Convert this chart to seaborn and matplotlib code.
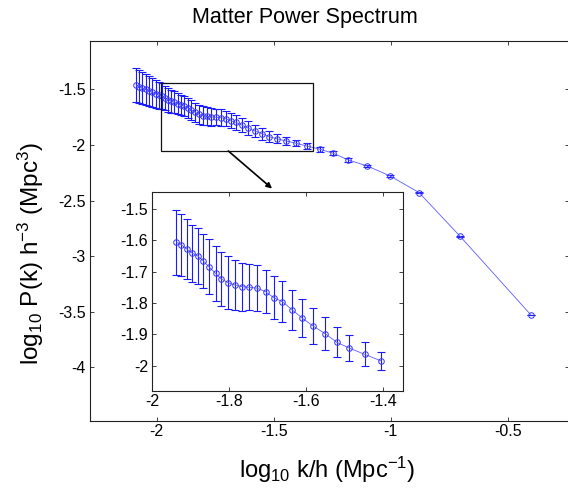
import numpy as np
import pandas as pd
import matplotlib
matplotlib.use("Agg")
import matplotlib.pyplot as plt
import seaborn as sns
from matplotlib.ticker import FuncFormatter
from matplotlib.patches import Rectangle

# ---- data ----
log_k = [-2.088, -2.075, -2.061, -2.047, -2.033, -2.019, -2.005, -1.992, -1.978, -1.964, -1.950,
         -1.937, -1.924, -1.910, -1.896, -1.882, -1.867, -1.853, -1.835, -1.821, -1.803,
         -1.784, -1.766, -1.747, -1.727, -1.705, -1.684, -1.661, -1.636, -1.609, -1.582,
         -1.550, -1.519, -1.487, -1.447, -1.404,
         -1.359, -1.302, -1.245, -1.181, -1.100, -1.003, -0.879, -0.704, -0.402]
log_P = [-1.461, -1.475, -1.487, -1.500, -1.512, -1.525, -1.538, -1.551, -1.563, -1.577, -1.592,
         -1.606, -1.615, -1.628, -1.641, -1.650, -1.666, -1.684, -1.706, -1.723, -1.735,
         -1.743, -1.748, -1.750, -1.753, -1.764, -1.783, -1.796, -1.822, -1.849, -1.873,
         -1.898, -1.926, -1.944, -1.964, -1.985,
         -2.009, -2.039, -2.075, -2.135, -2.189, -2.278, -2.428, -2.820, -3.526]
err_P = [0.156, 0.151, 0.146, 0.141, 0.136, 0.131, 0.126, 0.121, 0.116, 0.112, 0.108,
         0.104, 0.100, 0.095, 0.091, 0.089, 0.087, 0.088, 0.088, 0.087, 0.084,
         0.081, 0.077, 0.074, 0.074, 0.069, 0.068, 0.066, 0.064, 0.061, 0.057,
         0.053, 0.048, 0.041, 0.038, 0.028,
         0.024, 0.020, 0.018, 0.016, 0.013, 0.010, 0.007, 0.004, 0.001]
inset_first, inset_last = 11, 36   # points shown in the zoomed inset

main_xticks = [-2, -1.5, -1, -0.5]
main_yticks = [-1.5, -2, -2.5, -3, -3.5, -4]
inset_xticks = [-2, -1.8, -1.6, -1.4]
inset_yticks = [-1.5, -1.6, -1.7, -1.8, -1.9, -2]

title = "Matter Power Spectrum"
xlabel = r"log$_{10}$ k/h (Mpc$^{-1}$)"
ylabel = r"log$_{10}$ P(k) h$^{-3}$ (Mpc$^{3}$)"

df = pd.DataFrame({"log_k": log_k, "log_P": log_P, "err": err_P})
df_in = df.iloc[inset_first:inset_last].reset_index(drop=True)

# ---- style ----
sns.set_theme(style="ticks")
plt.rcParams.update({
    "font.family": ["Liberation Sans", "DejaVu Sans"],
    "mathtext.fontset": "custom",
    "mathtext.rm": "Liberation Sans",
    "mathtext.it": "Liberation Sans:italic",
    "mathtext.bf": "Liberation Sans:bold",
    "axes.unicode_minus": False,
    "text.color": "black",
    "axes.labelcolor": "black",
    "xtick.color": "#222222",
    "ytick.color": "#222222",
    "xtick.labelcolor": "black",
    "ytick.labelcolor": "black",
    "xtick.direction": "in",
    "ytick.direction": "in",
    "xtick.top": True,
    "ytick.right": True,
    "xtick.major.size": 3.0,
    "ytick.major.size": 3.0,
    "xtick.major.width": 0.6,
    "ytick.major.width": 0.6,
    "axes.edgecolor": "#222222",
    "axes.linewidth": 0.8,
})

fig = plt.figure(figsize=(5.68, 4.91), dpi=100)
W, H = 568.0, 491.0


def fmt(v, pos):
    return "%g" % v


def draw(ax, data):
    ax.errorbar(data["log_k"], data["log_P"], yerr=data["err"], fmt="none",
                ecolor="#1a1aff", elinewidth=0.8, capsize=2.6, capthick=0.8, zorder=2)
    sns.lineplot(data=data, x="log_k", y="log_P", ax=ax, color="#5c5cff", lw=0.6,
                 marker="o", markersize=4, markerfacecolor="none",
                 markeredgecolor="#3333ff", markeredgewidth=0.7, sort=False, zorder=3)


# main axes
ax = fig.add_axes([90 / W, 1 - 421 / H, (569 - 90) / W, (421 - 40.7) / H])
draw(ax, df)
ax.set_xlim(-2.285, -0.238)
ax.set_ylim(-4.483, -1.062)
ax.set_xticks(main_xticks)
ax.set_yticks(main_yticks)
ax.xaxis.set_major_formatter(FuncFormatter(fmt))
ax.yaxis.set_major_formatter(FuncFormatter(fmt))
ax.tick_params(axis="x", labelsize=11.5, pad=2.5)
ax.tick_params(axis="y", labelsize=11.5, pad=3)
ax.set_xlabel(xlabel, fontsize=17, va="top")
ax.set_ylabel(ylabel, fontsize=17.5)
ax.xaxis.set_label_coords((327.5 - 90) / 479, (421 - 455) / 380.3)
ax.yaxis.set_label_coords((46 - 90) / 479, (421 - 253) / 380.3)

# zoom rectangle and arrow
ax.add_patch(Rectangle((-1.983, -2.054), 0.650, 0.608, fill=False,
                       edgecolor="#111111", lw=0.9, zorder=4))
ax.annotate("", xy=(-1.507, -2.392), xytext=(-1.694, -2.054),
            arrowprops=dict(arrowstyle="-|>", color="black", lw=1.2,
                            mutation_scale=8, shrinkA=0, shrinkB=0), zorder=4)

# inset axes
axi = fig.add_axes([152.3 / W, 1 - 390.7 / H, (402.7 - 152.3) / W, (390.7 - 191.7) / H])
axi.set_facecolor("white")
draw(axi, df_in)
axi.set_xlim(-2.0, -1.348)
axi.set_ylim(-2.08, -1.445)
axi.set_xticks(inset_xticks)
axi.set_yticks(inset_yticks)
axi.xaxis.set_major_formatter(FuncFormatter(fmt))
axi.yaxis.set_major_formatter(FuncFormatter(fmt))
axi.tick_params(axis="x", labelsize=11.5, pad=2.5)
axi.tick_params(axis="y", labelsize=11.5, pad=3)
axi.set_xlabel("")
axi.set_ylabel("")

fig.text(305 / W, 1 - 17 / H, title, ha="center", va="center", fontsize=15.5)

fig.savefig("out.png", dpi=100)
